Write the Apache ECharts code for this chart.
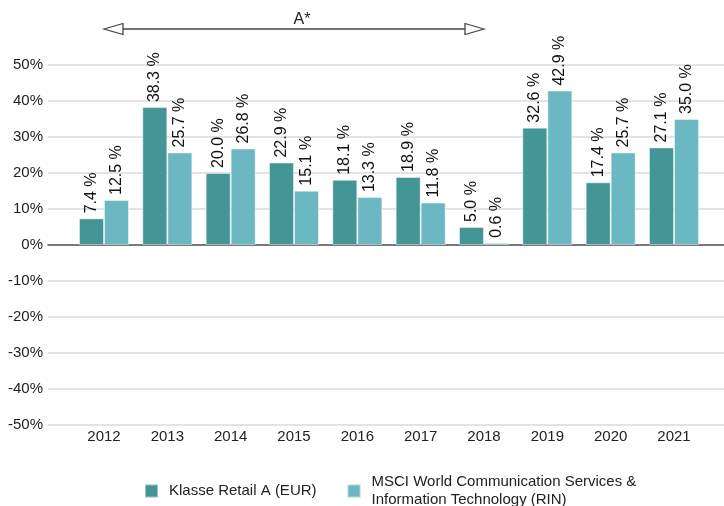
<!DOCTYPE html>
<html>
<head>
<meta charset="utf-8">
<script src="https://cdn.jsdelivr.net/npm/echarts@6/dist/echarts.min.js"></script>
<style>
html,body{margin:0;padding:0;background:#fff;}
#c{width:724px;height:506px;}
</style>
</head>
<body>
<div id="c"></div>
<script>
const categories = ['2012','2013','2014','2015','2016','2017','2018','2019','2020','2021'];
const retailA = [7.4, 38.3, 20.0, 22.9, 18.1, 18.9, 5.0, 32.6, 17.4, 27.1];
const msci = [12.5, 25.7, 26.8, 15.1, 13.3, 11.8, 0.6, 42.9, 25.7, 35.0];
const seriesNames = ['Klasse Retail A (EUR)', 'MSCI World Communication Services &\nInformation Technology (RIN)'];
const yMin = -50, yMax = 50, yInterval = 10;
const arrowFrom = '2012', arrowTo = '2018', arrowLevel = 60, arrowLabel = 'A*';

const FONT = '"Liberation Sans", Arial, sans-serif';
const chart = echarts.init(document.getElementById('c'));

const labelOpt = {
  show: true, position: 'top', rotate: 90, align: 'left', verticalAlign: 'middle',
  distance: 5, fontSize: 16, color: '#111', fontFamily: FONT,
  formatter: p => p.value.toFixed(1) + ' %'
};

chart.setOption({
  animation: false,
  textStyle: { fontFamily: FONT },
  grid: [
    { left: 48, right: 0, top: 65, bottom: 81 },
    { left: 72.33, right: 18.33, top: 65, bottom: 81 }
  ],
  xAxis: [
    { gridIndex: 0, type: 'value', min: 0, max: 1,
      axisLine: { show: true, onZero: true, lineStyle: { color: '#555', width: 1.5 } },
      axisTick: { show: false }, axisLabel: { show: false }, splitLine: { show: false } },
    { gridIndex: 1, type: 'category', data: categories,
      axisLine: { show: false, onZero: false }, axisTick: { show: false },
      axisLabel: { fontSize: 15, color: '#222', margin: 4, fontFamily: FONT } }
  ],
  yAxis: [
    { gridIndex: 0, type: 'value', min: yMin, max: yMax, interval: yInterval,
      axisLine: { show: false }, axisTick: { show: false },
      axisLabel: { formatter: '{value}%', fontSize: 15, color: '#222', margin: 5, fontFamily: FONT },
      splitLine: { lineStyle: { color: '#e3e3e3', width: 2 } } },
    { gridIndex: 1, type: 'value', min: yMin, max: yMax, interval: yInterval, show: false,
      splitLine: { show: false } }
  ],
  legend: {
    data: seriesNames,
    left: 139, top: 468,
    icon: 'rect', itemWidth: 13, itemHeight: 13, itemGap: 30,
    textStyle: { fontSize: 15, color: '#222', lineHeight: 18, padding: [0, 0, 0, 6], fontFamily: FONT }
  },
  series: [
    { name: seriesNames[0], type: 'bar', xAxisIndex: 1, yAxisIndex: 1, data: retailA,
      barWidth: 25, barGap: '0%',
      itemStyle: { color: '#439596', borderColor: 'rgba(255,255,255,0.45)', borderWidth: 1 },
      label: labelOpt },
    { name: seriesNames[1], type: 'bar', xAxisIndex: 1, yAxisIndex: 1, data: msci,
      barWidth: 25, barGap: '0%',
      itemStyle: { color: '#6cb8c2', borderColor: 'rgba(255,255,255,0.45)', borderWidth: 1 },
      label: labelOpt },
    { type: 'custom', xAxisIndex: 1, yAxisIndex: 1, clip: false, silent: true,
      data: [[categories.indexOf(arrowFrom), arrowLevel, categories.indexOf(arrowTo)]],
      encode: { x: 0, y: 1 },
      renderItem: function (params, api) {
        const p1 = api.coord([api.value(0), api.value(1)]);
        const p2 = api.coord([api.value(2), api.value(1)]);
        const y = p1[1];
        const hl = 19, hh = 5.5;
        const stroke = { stroke: '#444', lineWidth: 1.3, fill: '#fff' };
        return { type: 'group', children: [
          { type: 'line', shape: { x1: p1[0] + hl, y1: y, x2: p2[0] - hl, y2: y }, style: { stroke: '#444', lineWidth: 1.5 } },
          { type: 'polygon', shape: { points: [[p1[0], y], [p1[0] + hl, y - hh], [p1[0] + hl, y + hh]] }, style: stroke },
          { type: 'polygon', shape: { points: [[p2[0], y], [p2[0] - hl, y - hh], [p2[0] - hl, y + hh]] }, style: stroke },
          { type: 'text', x: (p1[0] + p2[0]) / 2 + 8, y: y - 9,
            style: { text: arrowLabel, fontSize: 16, fill: '#222', align: 'center', verticalAlign: 'middle', fontFamily: FONT } }
        ] };
      }
    }
  ]
});
</script>
</body>
</html>
